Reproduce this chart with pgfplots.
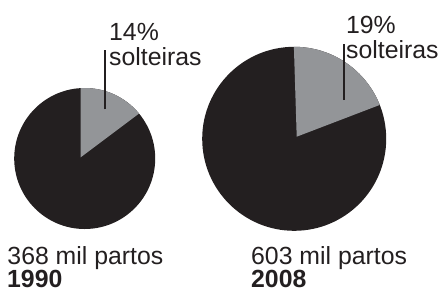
\documentclass[border=0pt]{standalone}
\usepackage{pgfplots}
\usepackage{pgfplotstable}
\pgfplotsset{compat=1.18}
\usepackage{fontspec}
\setmainfont{Liberation Sans}
\definecolor{piedark}{HTML}{231F20}
\definecolor{piegray}{HTML}{939598}

% cx,cy: centre; r: radius; ax,ay: apex of wedge; sa: start angle of wedge
\pgfplotstableread{
cx    cy    r    ax    ay    sa    pct births year
84.7  130.5 70.5 80.7  131.7 93.25 14  368    1990
294.2 150.2 92   296.7 152.3 90.2  19  603    2008
}\piedata

\begin{document}
\begin{tikzpicture}
\begin{axis}[x=1bp,y=1bp,xmin=0,xmax=440,ymin=0,ymax=289,
  enlargelimits=false,hide axis,clip=false]
\path (axis cs:0,0) rectangle (axis cs:440,289);
\pgfplotsforeachungrouped \i in {0,1}{%
  \pgfplotstablegetelem{\i}{cx}\of\piedata \let\cx\pgfplotsretval
  \pgfplotstablegetelem{\i}{cy}\of\piedata \let\cy\pgfplotsretval
  \pgfplotstablegetelem{\i}{r}\of\piedata \let\rr\pgfplotsretval
  \pgfplotstablegetelem{\i}{ax}\of\piedata \let\ax\pgfplotsretval
  \pgfplotstablegetelem{\i}{ay}\of\piedata \let\ay\pgfplotsretval
  \pgfplotstablegetelem{\i}{sa}\of\piedata \let\sa\pgfplotsretval
  \pgfplotstablegetelem{\i}{pct}\of\piedata \let\pct\pgfplotsretval
  \pgfmathsetmacro\ea{90-3.6*\pct}%
  \edef\temp{%
    \noexpand\fill[piedark] (axis cs:\cx,\cy) circle[radius=\rr bp];
    \noexpand\fill[piegray] ([shift={(\sa:\rr bp)}]axis cs:\cx,\cy)
      arc[start angle=\sa, end angle=\ea, radius=\rr bp]
      -- (axis cs:\ax,\ay) -- cycle;
  }%
  \temp
}
% leader lines
\addplot[piedark,line width=2.7bp] coordinates {(105,179.7) (105,239)};
\addplot[piedark,line width=2.7bp] coordinates {(344,189) (344,245.5)};
% labels
\begin{scope}[every node/.style={inner sep=0pt,anchor=base west,text=piedark,
    font=\fontsize{24.9pt}{25pt}\selectfont}]
\node at (axis cs:109,248.5) {14\%};
\node at (axis cs:109,224) {solteiras};
\node at (axis cs:345.8,255.5) {19\%};
\node at (axis cs:346,230.5) {solteiras};
\node at (axis cs:7.3,24.2) {368 mil partos};
\node at (axis cs:7,1.8) {\bfseries 1990};
\node at (axis cs:251,24.2) {603 mil partos};
\node at (axis cs:251,1.8) {\bfseries 2008};
\end{scope}
\end{axis}
\end{tikzpicture}
\end{document}
